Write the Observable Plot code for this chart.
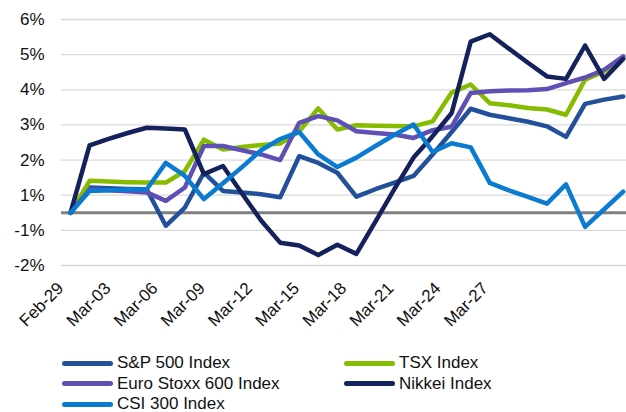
<!DOCTYPE html>
<html><head><meta charset="utf-8">
<script src="https://cdn.jsdelivr.net/npm/d3@7"></script>
<script src="https://cdn.jsdelivr.net/npm/@observablehq/plot@0.6"></script>
<style>
body{margin:0;background:#fff;font-family:"Liberation Sans",Arial,sans-serif;}
#legend{display:grid;grid-template-columns:282px 240px;margin-left:62px;margin-top:3px;font-size:17px;line-height:20.5px;color:#111}
.item{display:flex;align-items:center;white-space:nowrap}
.sw{width:51px;height:5px;border-radius:3px;margin-right:4px}
</style></head><body><div id="chart"></div><div id="legend"></div>
<script>
const seriesNames = ["S&P 500 Index","TSX Index","Euro Stoxx 600 Index","Nikkei Index","CSI 300 Index"];
const seriesColors = ["#22509a","#85bc00","#6050b5","#14215a","#0a7bd0"];

const spx    = [0,0.72,0.70,0.68,0.67,-0.37,0.15,1.14,0.62,0.58,0.53,0.44,1.61,1.42,1.14,0.46,0.67,0.86,1.05,1.66,2.30,2.96,2.79,2.69,2.59,2.46,2.16,3.10,3.22,3.31];
const tsx    = [0,0.91,0.89,0.87,0.86,0.86,1.19,2.08,1.80,1.87,1.93,1.97,2.32,2.97,2.37,2.49,2.48,2.47,2.46,2.60,3.42,3.65,3.12,3.06,2.98,2.94,2.79,3.79,4.02,4.40];
const stoxx  = [0,0.66,0.64,0.61,0.58,0.34,0.72,1.90,1.90,1.78,1.66,1.50,2.56,2.75,2.63,2.32,2.27,2.23,2.13,2.35,2.45,3.41,3.46,3.48,3.49,3.52,3.69,3.85,4.07,4.45];
const nikkei = [0,1.92,2.10,2.27,2.42,2.40,2.37,1.10,1.33,0.55,-0.22,-0.85,-0.93,-1.20,-0.91,-1.17,-0.25,0.68,1.57,2.18,2.84,4.87,5.08,4.67,4.27,3.88,3.81,4.76,3.81,4.38];
const csi    = [0,0.62,0.64,0.66,0.67,1.42,1.05,0.39,0.84,1.30,1.78,2.10,2.30,1.66,1.30,1.57,1.90,2.22,2.51,1.73,1.98,1.86,0.85,0.64,0.45,0.26,0.81,-0.40,0.10,0.60];

const tickLabels = ["Feb-29","Mar-03","Mar-06","Mar-09","Mar-12","Mar-15","Mar-18","Mar-21","Mar-24","Mar-27"];
const tickStep = 2.475;   // categories per labelled tick
const tickStart = -0.52;
const yTicks = [-1.5,-0.5,0.5,1.5,2.5,3.5,4.5,5.5];

const allSeries = [spx, tsx, stoxx, nikkei, csi];
const rows = [];
allSeries.forEach((vals, s) => vals.forEach((v, i) => rows.push({series: seriesNames[s], i, v})));

const tickPos = tickLabels.map((_, k) => tickStart + k * tickStep);
const labelByPos = new Map(tickPos.map((p, k) => [p, tickLabels[k]]));
const fmtY = v => (Math.sign(v) * Math.round(Math.abs(v))) + "%";

const font = '"Liberation Sans", Arial, sans-serif';
const chart = Plot.plot({
  width: 626, height: 350,
  marginLeft: 61, marginRight: 0, marginTop: 19, marginBottom: 85,
  style: {fontFamily: font, fontSize: "17px", color: "#111", background: "#fff", overflow: "visible"},
  x: {domain: [0, 29], insetLeft: 9, insetRight: 3.3, label: null},
  y: {domain: [-1.5, 5.5], label: null},
  color: {domain: seriesNames, range: seriesColors},
  marks: [
    Plot.ruleY(yTicks, {stroke: "#d9d9d9", strokeWidth: 1.3}),
    Plot.ruleY([0], {stroke: "#808080", strokeWidth: 3}),
    Plot.axisY(yTicks, {tickSize: 0, tickPadding: 17, tickFormat: fmtY, label: null, fontSize: 17}),
    Plot.axisX(tickPos, {tickSize: 0, tickPadding: 20, tickRotate: -45, tickFormat: d => labelByPos.get(d), label: null, fontSize: 17}),
    Plot.line(rows, {x: "i", y: "v", z: "series", stroke: "series", strokeWidth: 4.5, strokeLinejoin: "round", strokeLinecap: "round"})
  ]
});
document.getElementById("chart").appendChild(chart);

const legend = document.getElementById("legend");
seriesNames.forEach((name, s) => {
  const it = document.createElement("div");
  it.className = "item";
  const sw = document.createElement("span");
  sw.className = "sw";
  sw.style.background = seriesColors[s];
  const tx = document.createElement("span");
  tx.textContent = name;
  it.appendChild(sw); it.appendChild(tx);
  legend.appendChild(it);
});
</script></body></html>
